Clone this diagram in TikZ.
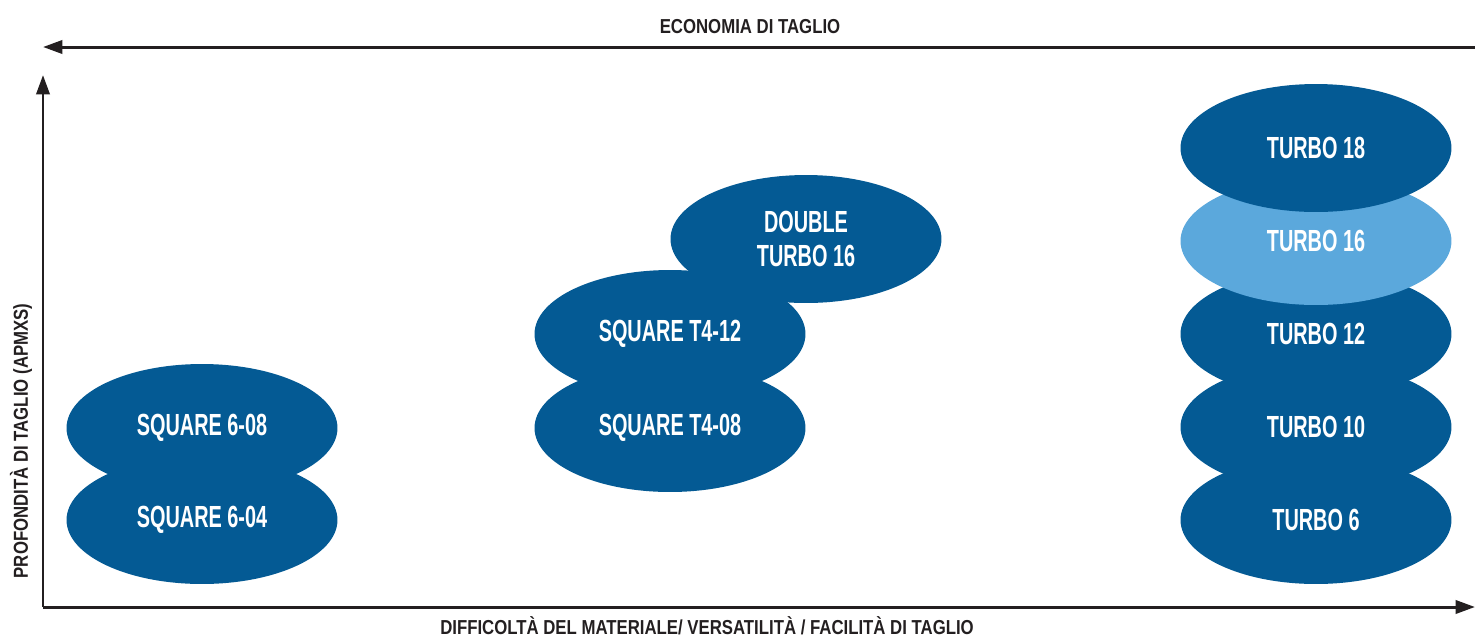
\documentclass[tikz,border=0pt]{standalone}
\usepackage{fontspec}
\setmainfont[FakeStretch=0.65]{Liberation Sans}
\newfontfamily\axisfont[FakeStretch=0.83]{Liberation Sans}
\usetikzlibrary{shapes,arrows.meta,positioning}
\definecolor{tooldark}{HTML}{045A94}
\definecolor{toollight}{HTML}{5BA8DC}
\definecolor{axisgray}{HTML}{231F20}
\tikzset{
  pill/.style={ellipse,fill=tooldark,minimum width=5.42cm,minimum height=2.56cm,inner sep=0pt,text=white,align=center,font=\bfseries\fontsize{17.4}{19.3}\selectfont},
  axisline/.style={draw=axisgray,line width=1.7pt,-{Triangle[length=11pt,width=7.5pt]}},
  axislabel/.style={text=axisgray,inner sep=0pt,font=\axisfont\bfseries\fontsize{11.5}{13}\selectfont}
}
\begin{document}
\begin{tikzpicture}[x=0.02cm,y=-0.02cm]
\useasboundingbox (0,0) rectangle (1475,637);
% axes
\coordinate (origin) at (43,607);
\coordinate (ytop) at (43,75);
\coordinate (xend) at (1475,607);
\coordinate (topright) at (1475,47);
\coordinate (topleft) at (43,47);
\draw[axisline] (origin) -- (ytop);
\draw[axisline] (origin) -- (xend);
\draw[axisline] (topright) -- (topleft);
\node[axislabel] (economy) at (750,27) {ECONOMIA DI TAGLIO};
\node[axislabel] (difficulty) at (707,626) {DIFFICOLTÀ DEL MATERIALE/ VERSATILITÀ / FACILITÀ DI TAGLIO};
\node[axislabel,rotate=90] (depth) at (21,441) {PROFONDITÀ DI TAGLIO (APMXS)};
% square 6
\node[pill] (sq604) at (202,520) {SQUARE 6-04};
\node[pill] (sq608) at (202,428) {SQUARE 6-08};
% square T4 and double turbo
\node[pill] (sqt408) at (670,428) {SQUARE T4-08};
\node[pill] (sqt412) at (670,334) {SQUARE T4-12};
\node[pill] (dturbo16) at (806,239) {DOUBLE\\TURBO 16};
% turbo stack
\foreach \lbl/\nm/\col [count=\n] in
        {TURBO 6/t6/tooldark, TURBO 10/t10/tooldark, TURBO 12/t12/tooldark,
         TURBO 16/t16/toollight, TURBO 18/t18/tooldark}
    \node[pill,fill=\col] (\nm) at (1316,{520-(\n-1)*93}) {\lbl};
\end{tikzpicture}
\end{document}
